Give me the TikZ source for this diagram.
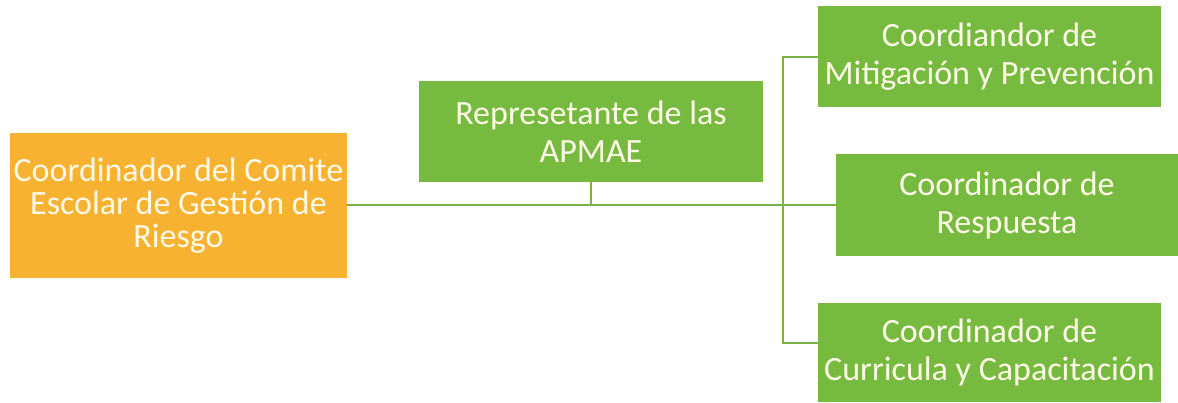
\documentclass[tikz,border=0pt]{standalone}
\usepackage{fontspec}
\setmainfont{Carlito}
\definecolor{boxgreen}{RGB}{118,186,64}
\definecolor{boxorange}{RGB}{248,178,50}
\definecolor{linegreen}{RGB}{120,180,70}
\definecolor{txt}{RGB}{255,250,232}
\tikzset{
  box/.style={rectangle, inner sep=0pt, align=center, text=txt,
    font=\fontsize{34}{38}\selectfont},
  gbox/.style={box, fill=boxgreen},
  obox/.style={box, fill=boxorange, font=\fontsize{34}{33}\selectfont},
  conn/.style={draw=linegreen, line width=1.6pt}
}
\begin{document}
\begin{tikzpicture}[x=1pt,y=-1pt]
\useasboundingbox[fill=white] (0,0) rectangle (1178,402);
\node[obox, minimum width=337pt, minimum height=145pt] (coord) at (178.5,205.5)
  {Coordinador del Comite\\Escolar de Gestión de\\Riesgo};
\node[gbox, minimum width=344pt, minimum height=101pt] (apmae) at (591,131.5)
  {Represetante de las\\APMAE};
\node[gbox, minimum width=343pt, minimum height=101pt] (mit) at (989.5,56.5)
  {Coordiandor de\\Mitigación y Prevención};
\node[gbox, minimum width=342pt, minimum height=102pt] (resp) at (1007,205)
  {Coordinador de\\Respuesta};
\node[gbox, minimum width=343pt, minimum height=99pt] (cur) at (989.5,352.5)
  {Coordinador de\\Curricula y Capacitación};
\coordinate (junc) at (591,205);
\coordinate (vtop) at (783,57);
\coordinate (vbot) at (783,343);
\draw[conn] (coord.east |- junc) -- (resp.west);
\draw[conn] (apmae.south) -- (apmae.south |- junc);
\draw[conn] (mit.west |- vtop) -- (vtop) -- (vbot) -- (cur.west |- vbot);
\end{tikzpicture}
\end{document}
